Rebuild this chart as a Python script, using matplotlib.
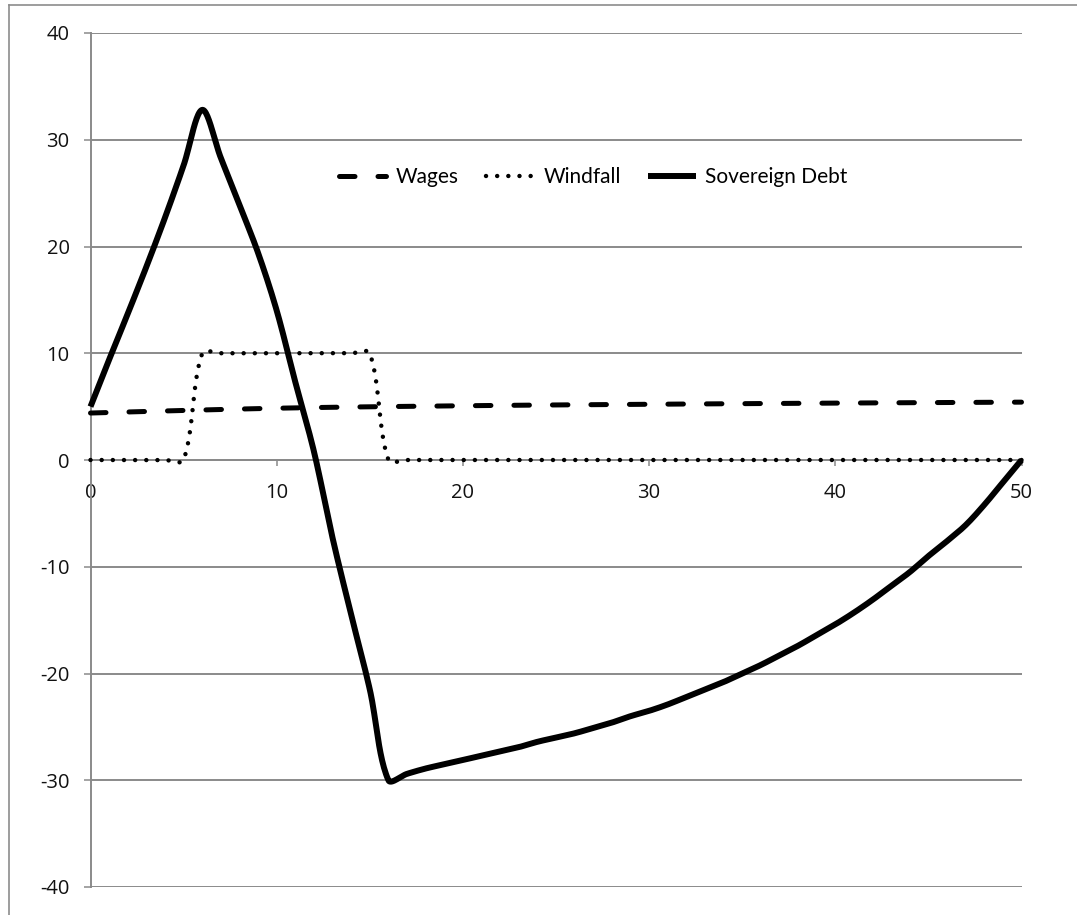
import numpy as np
import matplotlib
matplotlib.use("Agg")
import matplotlib.pyplot as plt
from matplotlib.lines import Line2D

# ----- data -----
years = list(range(0, 51))
sovereign_debt = [
    5.0, 9.4, 13.7, 18.1, 22.7, 27.6, 32.8, 28.3, 23.9, 19.4,
    14.0, 7.3, 0.8, -7.3, -14.5, -21.5, -30.0, -29.4, -28.9, -28.5,
    -28.1, -27.7, -27.3, -26.9, -26.4, -26.0, -25.6, -25.1, -24.6, -24.0,
    -23.5, -22.9, -22.2, -21.5, -20.8, -20.0, -19.2, -18.3, -17.4, -16.4,
    -15.4, -14.3, -13.1, -11.8, -10.5, -9.0, -7.6, -6.1, -4.2, -2.1,
    0.0,
]
windfall = [0] * 6 + [10] * 10 + [0] * 35

wage_years = [0, 10, 20, 30, 40, 50]
wages = [4.4, 4.85, 5.08, 5.22, 5.33, 5.42]

x_ticks = [0, 10, 20, 30, 40, 50]
y_ticks = [-40, -30, -20, -10, 0, 10, 20, 30, 40]

W, H = 1077, 915
PX_X = 931 / 50   # pixels per x unit
PX_Y = 854 / 80   # pixels per y unit


def excel_smooth(x, y, n=24):
    """Bezier smoothing in screen space, tangents scaled by chord length."""
    P = np.column_stack([np.asarray(x, float) * PX_X, np.asarray(y, float) * PX_Y])
    m = len(P)
    out = []
    s = np.linspace(0, 1, n, endpoint=False)[:, None]
    for i in range(m - 1):
        p0 = P[i - 1] if i > 0 else P[i]
        p1, p2 = P[i], P[i + 1]
        p3 = P[i + 2] if i + 2 < m else P[i + 1]
        d01 = np.linalg.norm(p1 - p0)
        d12 = np.linalg.norm(p2 - p1)
        d23 = np.linalg.norm(p3 - p2)
        c1 = p1 + (p2 - p0) * (d12 / (d01 + d12) / 3 if d01 > 0 else 0)
        c2 = p2 - (p3 - p1) * (d12 / (d12 + d23) / 3 if d23 > 0 else 0)
        out.append((1 - s) ** 3 * p1 + 3 * (1 - s) ** 2 * s * c1
                   + 3 * (1 - s) * s ** 2 * c2 + s ** 3 * p2)
    out.append(P[-1:])
    pts = np.vstack(out)
    return pts[:, 0] / PX_X, pts[:, 1] / PX_Y


plt.rcParams['axes.unicode_minus'] = False
fig = plt.figure(figsize=(W / 100, H / 100), dpi=100)
fig.patch.set_facecolor('white')
ax = fig.add_axes([90.5 / W, 1 - 887 / H, 931 / W, 854 / H])

grid_c = '#8a8a8a'

# wages
wx, wy = excel_smooth(wage_years, wages)
ax.plot(wx, wy, color='black', lw=3.6, linestyle=(0, (3.1, 4.6)),
        dash_capstyle='round', clip_on=False, label='Wages', zorder=3)

# windfall
fx, fy = excel_smooth(years, windfall)
ax.plot(fx, fy, color='black', lw=3.2, linestyle=(0, (0.01, 2.5)),
        dash_capstyle='round', clip_on=False, label='Windfall', zorder=3)

# sovereign debt
sx, sy = excel_smooth(years, sovereign_debt)
ax.plot(sx, sy, color='black', lw=4.3, solid_capstyle='butt',
        solid_joinstyle='round', clip_on=False, label='Sovereign Debt', zorder=4)

ax.set_xlim(0, 50)
ax.set_ylim(-40, 40)
ax.set_xticks(x_ticks)
ax.set_yticks(y_ticks)
ax.yaxis.grid(True, color=grid_c, lw=1.4)
ax.set_axisbelow(True)

for side in ['top', 'right']:
    ax.spines[side].set_visible(False)
ax.spines['bottom'].set_position(('data', 0))
ax.spines['bottom'].set_color(grid_c)
ax.spines['bottom'].set_linewidth(1.4)
ax.spines['left'].set_color(grid_c)
ax.spines['left'].set_linewidth(1.4)

ax.tick_params(axis='y', direction='out', length=5, width=1.1, color=grid_c,
               pad=10, labelcolor='#111111')
ax.tick_params(axis='x', direction='out', length=4.5, width=1.1, color=grid_c,
               pad=12, labelcolor='#111111')
for lab in ax.get_xticklabels() + ax.get_yticklabels():
    lab.set_fontfamily(['Open Sans', 'DejaVu Sans'])
    lab.set_fontsize(14.5)

leg = ax.legend(loc='center', bbox_to_anchor=(593 / W, 1 - 177 / H),
                bbox_transform=fig.transFigure, ncol=3, frameon=False,
                prop={'family': ['Liberation Sans Narrow', 'DejaVu Sans Condensed', 'Lato'],
                      'size': 15},
                handlelength=2.3, handletextpad=0.45, columnspacing=1.3)

# outer chart border (only top and left edges fall inside the picture)
border_c = '#8c8c8c'
fig.add_artist(Line2D([8.5 / W, 8.5 / W], [0, 1 - 4.5 / H], color=border_c, lw=1.2,
                      transform=fig.transFigure))
fig.add_artist(Line2D([8.5 / W, 1], [1 - 4.5 / H, 1 - 4.5 / H], color=border_c, lw=1.2,
                      transform=fig.transFigure))

fig.savefig('out.png', dpi=100, facecolor='white')
